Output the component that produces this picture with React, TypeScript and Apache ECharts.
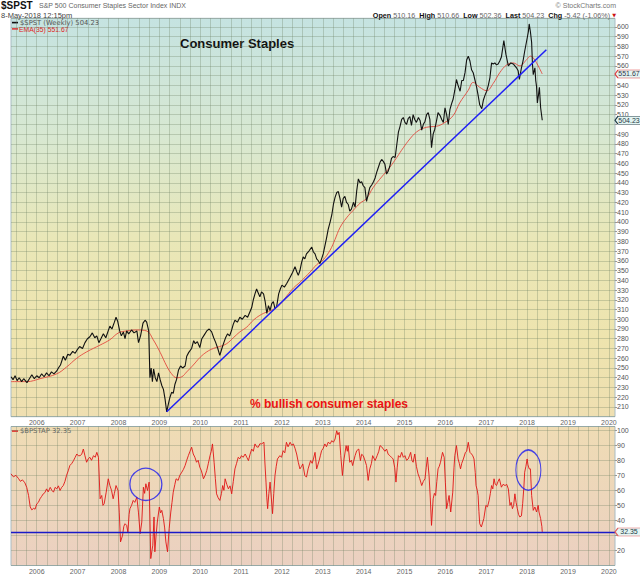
import React, { useEffect, useRef } from "react";
import * as echarts from "echarts";

const FONT = '"Liberation Sans", Arial, sans-serif';

// ---- axis ranges / ticks ----
const X_MIN = 2005.37;
const X_MAX = 2020.15;
const yearLabels = [2006, 2007, 2008, 2009, 2010, 2011, 2012, 2013, 2014, 2015, 2016, 2017, 2018, 2019, 2020];
const quarterLines: number[] = [];
for (let q = 2005.5; q <= 2020.001; q += 0.25) quarterLines.push(Math.round(q * 100) / 100);
// axis labels hidden behind the last-value tags
const hiddenPriceLabels = [500, 550];
const hiddenBullishLabels = [30];

// ---- $SPST weekly close (decimal year, value) ----
const spst: number[][] = [
  [2005.37, 241], [2005.42, 238], [2005.47, 242], [2005.52, 237], [2005.57, 240], [2005.63, 236], [2005.68, 239],
  [2005.76, 235], [2005.82, 239], [2005.88, 243], [2005.94, 239], [2006.0, 242], [2006.06, 240], [2006.12, 244],
  [2006.18, 241], [2006.24, 245], [2006.3, 242], [2006.36, 246], [2006.42, 244], [2006.49, 247], [2006.53, 250],
  [2006.58, 253], [2006.65, 262], [2006.7, 258], [2006.76, 264], [2006.81, 263], [2006.88, 267], [2006.94, 265],
  [2006.98, 268], [2007.05, 272], [2007.12, 270], [2007.18, 276], [2007.24, 280], [2007.3, 282], [2007.36, 286],
  [2007.42, 281], [2007.47, 283], [2007.52, 276], [2007.57, 280], [2007.63, 285], [2007.69, 281], [2007.74, 287],
  [2007.79, 293], [2007.84, 290], [2007.9, 297], [2007.94, 302], [2007.98, 298], [2008.03, 288], [2008.07, 283],
  [2008.12, 287], [2008.16, 280], [2008.2, 288], [2008.25, 285], [2008.32, 289], [2008.38, 286], [2008.45, 288],
  [2008.49, 276], [2008.54, 283], [2008.6, 296], [2008.65, 299], [2008.69, 297], [2008.74, 288], [2008.77, 240],
  [2008.8, 250], [2008.83, 236], [2008.86, 249], [2008.9, 240], [2008.94, 236], [2008.98, 245], [2009.02, 238],
  [2009.06, 232], [2009.1, 228], [2009.14, 218], [2009.18, 205], [2009.22, 213], [2009.26, 220], [2009.3, 225],
  [2009.34, 224], [2009.38, 233], [2009.42, 238], [2009.47, 248], [2009.52, 252], [2009.57, 250], [2009.63, 252],
  [2009.67, 262], [2009.72, 266], [2009.79, 270], [2009.84, 278], [2009.88, 275], [2009.93, 277], [2009.99, 271],
  [2010.04, 280], [2010.1, 284], [2010.16, 288], [2010.22, 290], [2010.28, 287], [2010.33, 281], [2010.38, 276],
  [2010.43, 270], [2010.48, 263], [2010.53, 270], [2010.57, 275], [2010.62, 281], [2010.67, 285], [2010.72, 283],
  [2010.77, 289], [2010.81, 295], [2010.85, 299], [2010.91, 297], [2010.97, 302], [2011.03, 300], [2011.1, 304],
  [2011.16, 302], [2011.22, 308], [2011.26, 312], [2011.3, 320], [2011.34, 326], [2011.38, 331], [2011.42, 327],
  [2011.46, 323], [2011.5, 328], [2011.55, 326], [2011.59, 318], [2011.63, 306], [2011.67, 314], [2011.71, 309],
  [2011.75, 316], [2011.79, 318], [2011.83, 311], [2011.87, 313], [2011.92, 326], [2011.96, 331], [2012.0, 335],
  [2012.06, 333], [2012.12, 337], [2012.16, 340], [2012.2, 343], [2012.26, 348], [2012.32, 354], [2012.36, 349],
  [2012.4, 345], [2012.44, 350], [2012.48, 358], [2012.52, 364], [2012.56, 362], [2012.6, 367], [2012.66, 370],
  [2012.73, 374], [2012.77, 369], [2012.81, 367], [2012.85, 362], [2012.89, 360], [2012.93, 357], [2012.97, 362],
  [2013.01, 367], [2013.05, 375], [2013.09, 383], [2013.13, 392], [2013.18, 400], [2013.22, 407], [2013.26, 418],
  [2013.3, 425], [2013.34, 430], [2013.38, 431], [2013.42, 424], [2013.46, 415], [2013.5, 424], [2013.54, 426],
  [2013.58, 420], [2013.62, 418], [2013.66, 411], [2013.7, 413], [2013.75, 420], [2013.79, 415], [2013.83, 432],
  [2013.87, 444], [2013.91, 440], [2013.95, 441], [2013.99, 437], [2014.03, 435], [2014.07, 421], [2014.11, 428],
  [2014.15, 435], [2014.2, 438], [2014.24, 441], [2014.28, 445], [2014.32, 451], [2014.36, 456], [2014.4, 461],
  [2014.44, 464], [2014.48, 462], [2014.52, 459], [2014.56, 449], [2014.6, 452], [2014.64, 457], [2014.68, 465],
  [2014.72, 467], [2014.77, 466], [2014.81, 479], [2014.85, 492], [2014.89, 498], [2014.93, 505], [2014.97, 507],
  [2015.01, 502], [2015.05, 500], [2015.09, 506], [2015.13, 508], [2015.17, 499], [2015.21, 510], [2015.25, 505],
  [2015.29, 502], [2015.34, 507], [2015.38, 504], [2015.42, 494], [2015.46, 500], [2015.5, 503], [2015.54, 510],
  [2015.58, 512], [2015.62, 505], [2015.66, 476], [2015.7, 490], [2015.74, 495], [2015.78, 503], [2015.82, 512],
  [2015.87, 509], [2015.91, 505], [2015.95, 502], [2015.99, 517], [2016.03, 510], [2016.07, 500], [2016.11, 515],
  [2016.15, 521], [2016.19, 526], [2016.23, 535], [2016.27, 546], [2016.31, 540], [2016.36, 534], [2016.4, 545],
  [2016.44, 545], [2016.48, 553], [2016.52, 566], [2016.56, 570], [2016.6, 565], [2016.64, 556], [2016.68, 553],
  [2016.72, 546], [2016.76, 539], [2016.8, 530], [2016.84, 520], [2016.89, 516], [2016.93, 525], [2016.97, 530],
  [2017.01, 534], [2017.05, 540], [2017.09, 548], [2017.13, 563], [2017.17, 562], [2017.21, 563], [2017.25, 561],
  [2017.29, 562], [2017.33, 565], [2017.37, 569], [2017.43, 586], [2017.48, 572], [2017.51, 566], [2017.54, 560],
  [2017.6, 563], [2017.66, 562], [2017.7, 560], [2017.74, 558], [2017.78, 555], [2017.81, 546], [2017.86, 558],
  [2017.9, 565], [2017.94, 575], [2017.99, 586], [2018.03, 595], [2018.05, 603], [2018.08, 595], [2018.11, 584],
  [2018.13, 562], [2018.15, 551], [2018.19, 558], [2018.21, 545], [2018.23, 539], [2018.25, 522], [2018.28, 531],
  [2018.3, 538], [2018.33, 517], [2018.37, 504.23],
];

// ---- EMA(35) ----
const ema35: number[][] = [
  [2005.37, 236], [2005.76, 236], [2006.08, 239], [2006.49, 244], [2006.73, 251], [2006.98, 260], [2007.22, 266.5],
  [2007.55, 273.5], [2007.79, 279], [2008.0, 286], [2008.2, 288], [2008.45, 289], [2008.69, 288], [2008.85, 279],
  [2009.02, 266], [2009.18, 252], [2009.3, 244], [2009.42, 240], [2009.55, 241], [2009.67, 246], [2009.83, 253],
  [2010.0, 261], [2010.16, 266.5], [2010.32, 270], [2010.48, 272], [2010.65, 275], [2010.81, 281], [2010.97, 287],
  [2011.14, 292], [2011.3, 299], [2011.46, 304], [2011.63, 307.5], [2011.79, 310], [2011.95, 315], [2012.12, 324],
  [2012.28, 332], [2012.44, 338], [2012.69, 348.5], [2012.85, 356], [2013.01, 361], [2013.18, 371], [2013.3, 382],
  [2013.42, 394], [2013.58, 404], [2013.75, 412], [2013.91, 419], [2014.07, 424], [2014.23, 435], [2014.44, 446],
  [2014.64, 456], [2014.81, 466], [2014.97, 476], [2015.13, 485], [2015.29, 492], [2015.46, 496], [2015.62, 497.5],
  [2015.78, 498], [2015.99, 502], [2016.19, 509], [2016.35, 522], [2016.56, 535], [2016.68, 543], [2016.84, 538],
  [2017.01, 534.5], [2017.17, 542], [2017.33, 553], [2017.5, 561], [2017.66, 563], [2017.82, 560], [2017.99, 566.5],
  [2018.08, 570], [2018.17, 567], [2018.27, 560], [2018.37, 551.67],
];

// ---- trend line drawn on the price panel ----
const trendLine: number[][] = [[2009.18, 205], [2018.47, 576.5]];

// ---- $BPSTAP bullish percent ----
const bpstap: number[][] = [
  [2005.37, 71], [2005.43, 69], [2005.49, 70], [2005.55, 68], [2005.6, 66], [2005.65, 67], [2005.71, 65],
  [2005.755, 62], [2005.8, 56.6], [2005.84, 49], [2005.88, 47], [2005.92, 48], [2005.96, 47.5], [2006.0, 51],
  [2006.04, 52], [2006.08, 54.4], [2006.12, 56], [2006.16, 57.7], [2006.2, 58.5], [2006.24, 61], [2006.28, 59],
  [2006.33, 62], [2006.37, 60], [2006.41, 58.8], [2006.45, 62], [2006.49, 61], [2006.53, 63], [2006.57, 59.9],
  [2006.61, 62], [2006.65, 63.2], [2006.69, 66], [2006.73, 70], [2006.77, 73], [2006.81, 76.5], [2006.86, 78],
  [2006.9, 79.8], [2006.94, 82], [2006.98, 84.2], [2007.02, 83], [2007.06, 83.1], [2007.1, 84], [2007.14, 87.5],
  [2007.18, 83], [2007.22, 78.7], [2007.26, 81], [2007.3, 82], [2007.34, 80], [2007.39, 83.1], [2007.43, 82],
  [2007.47, 85.3], [2007.51, 82], [2007.55, 54.4], [2007.59, 56.6], [2007.62, 50], [2007.65, 51.1], [2007.7, 58.8],
  [2007.75, 67.7], [2007.79, 63.2], [2007.83, 60], [2007.87, 54.4], [2007.9, 58], [2007.94, 63.2], [2007.99, 59.9],
  [2008.02, 45], [2008.05, 25.7], [2008.1, 30.1], [2008.13, 36], [2008.16, 37.8], [2008.2, 36.7], [2008.23, 32.3],
  [2008.26, 44], [2008.28, 47.8], [2008.32, 50], [2008.36, 53.3], [2008.4, 52], [2008.45, 55.5], [2008.49, 45],
  [2008.53, 31.2], [2008.57, 38.9], [2008.61, 62.1], [2008.64, 58], [2008.67, 64.4], [2008.71, 59.9], [2008.75, 65.5],
  [2008.79, 14.6], [2008.82, 20], [2008.84, 23.5], [2008.87, 42.3], [2008.89, 19.1], [2008.92, 30], [2008.95, 38.9],
  [2009.0, 48.9], [2009.03, 45], [2009.06, 46.7], [2009.1, 41.2], [2009.13, 35], [2009.16, 25.7], [2009.2, 19.1],
  [2009.24, 34.5], [2009.28, 45.6], [2009.31, 52], [2009.34, 58.8], [2009.38, 64], [2009.41, 67.7], [2009.46, 66.6],
  [2009.5, 70], [2009.55, 72.1], [2009.59, 74], [2009.63, 76.5], [2009.67, 80], [2009.71, 83.1], [2009.75, 86],
  [2009.79, 88.7], [2009.83, 84.2], [2009.87, 82], [2009.91, 78.7], [2009.95, 80], [2009.99, 75.4], [2010.03, 73],
  [2010.08, 67.7], [2010.12, 70], [2010.16, 73.2], [2010.2, 78], [2010.24, 83.1], [2010.27, 86], [2010.3, 90.9],
  [2010.34, 78.7], [2010.37, 68], [2010.4, 57.7], [2010.44, 55], [2010.48, 53.3], [2010.52, 58], [2010.55, 63.2],
  [2010.58, 60], [2010.61, 67.7], [2010.65, 64], [2010.69, 61], [2010.73, 63], [2010.77, 57.7], [2010.81, 66],
  [2010.85, 74.3], [2010.89, 78], [2010.93, 82], [2010.97, 81], [2011.01, 83.1], [2011.05, 82], [2011.1, 84.2],
  [2011.14, 82], [2011.18, 79.8], [2011.22, 84], [2011.26, 87.5], [2011.3, 86], [2011.34, 90.9], [2011.38, 89],
  [2011.42, 88.7], [2011.46, 91], [2011.5, 90.9], [2011.56, 92], [2011.58, 80], [2011.61, 65.5], [2011.63, 55],
  [2011.65, 47.8], [2011.68, 58], [2011.71, 65.5], [2011.74, 55], [2011.77, 44.5], [2011.8, 58], [2011.83, 69.9],
  [2011.86, 76], [2011.89, 80.9], [2011.95, 83.1], [2011.99, 82], [2012.03, 86.4], [2012.07, 85], [2012.11, 92],
  [2012.15, 89], [2012.2, 92], [2012.24, 90], [2012.28, 90.9], [2012.32, 88], [2012.36, 84.2], [2012.4, 78.7],
  [2012.44, 74.3], [2012.48, 76], [2012.51, 77.6], [2012.56, 69.9], [2012.6, 68.8], [2012.64, 74.3], [2012.7, 79.8],
  [2012.74, 78], [2012.77, 80.9], [2012.81, 85.3], [2012.85, 74.3], [2012.88, 77], [2012.91, 79.8], [2012.94, 83],
  [2012.97, 86.4], [2013.01, 88], [2013.05, 90.9], [2013.09, 89], [2013.13, 92], [2013.18, 91], [2013.22, 93.1],
  [2013.26, 92], [2013.3, 94.2], [2013.34, 99.7], [2013.37, 97], [2013.4, 98.6], [2013.44, 83.1], [2013.48, 69.9],
  [2013.52, 80.9], [2013.57, 89.8], [2013.6, 86], [2013.62, 89.8], [2013.66, 78.7], [2013.7, 80], [2013.73, 76.5],
  [2013.79, 83.1], [2013.83, 86.4], [2013.88, 87.5], [2013.92, 79.8], [2013.95, 84], [2013.99, 83.1], [2014.03, 80],
  [2014.07, 76.5], [2014.11, 66.6], [2014.15, 74.3], [2014.19, 78], [2014.22, 83.1], [2014.28, 79.8], [2014.33, 83.1],
  [2014.37, 86], [2014.4, 89.8], [2014.44, 89], [2014.48, 87.5], [2014.52, 86], [2014.56, 87.5], [2014.6, 84],
  [2014.64, 83.1], [2014.68, 82], [2014.72, 80.9], [2014.76, 75], [2014.79, 65.5], [2014.82, 75], [2014.85, 83.1],
  [2014.89, 82], [2014.93, 85.3], [2014.97, 82], [2015.01, 83.1], [2015.05, 80], [2015.09, 80.9], [2015.12, 83],
  [2015.15, 85.3], [2015.18, 80], [2015.21, 78.7], [2015.25, 84.2], [2015.29, 76], [2015.33, 71], [2015.37, 68],
  [2015.42, 63.2], [2015.46, 66], [2015.5, 67.7], [2015.53, 75], [2015.56, 82], [2015.6, 69.9], [2015.63, 55],
  [2015.66, 36.7], [2015.7, 54.4], [2015.73, 58], [2015.76, 56.6], [2015.79, 66], [2015.82, 74.3], [2015.85, 76],
  [2015.88, 78.7], [2015.93, 85.3], [2015.97, 82], [2016.0, 65], [2016.03, 47.8], [2016.06, 52], [2016.09, 56.6],
  [2016.13, 45.6], [2016.18, 58.8], [2016.21, 75], [2016.23, 83.1], [2016.27, 89.8], [2016.31, 80.9], [2016.34, 78],
  [2016.37, 74.3], [2016.4, 78], [2016.44, 80.9], [2016.49, 85.3], [2016.52, 86], [2016.56, 92], [2016.6, 85.3],
  [2016.64, 84.2], [2016.67, 83], [2016.7, 80.9], [2016.73, 72], [2016.75, 63.2], [2016.78, 60], [2016.8, 56.6],
  [2016.82, 46], [2016.84, 37.8], [2016.88, 35.6], [2016.94, 41.2], [2016.99, 50], [2017.03, 49], [2017.07, 53.3],
  [2017.1, 58], [2017.13, 63.2], [2017.16, 61], [2017.19, 67.7], [2017.22, 64], [2017.25, 63.2], [2017.29, 66],
  [2017.32, 67.7], [2017.37, 62.1], [2017.41, 64], [2017.46, 63.2], [2017.5, 64], [2017.54, 61], [2017.58, 50],
  [2017.61, 52], [2017.64, 47.8], [2017.67, 50], [2017.7, 57.7], [2017.73, 52], [2017.76, 47.8], [2017.79, 44],
  [2017.82, 42.3], [2017.86, 43], [2017.89, 51.1], [2017.92, 62], [2017.94, 72.1], [2017.97, 76], [2018.0, 80.9],
  [2018.02, 77], [2018.05, 74.3], [2018.08, 74.3], [2018.11, 56.6], [2018.15, 46.7], [2018.19, 48.9], [2018.23, 45.6],
  [2018.27, 50], [2018.29, 45.6], [2018.33, 41.2], [2018.36, 36], [2018.37, 32.35],
];

// ---- last values / annotations ----
const lastPrice = 504.23;
const lastEma = 551.67;
const lastBullish = 32.35;
const circleCenters: number[][] = [[2008.67, 64], [2018.03, 73.5]];
const circleSizes: number[][] = [[32, 32], [25, 40]];

const GRID_LINE = "rgba(105,125,95,0.30)";
const FRAME = "#a9bcc4";
const TAG_PATH = "path://M0,4 L3,0 L26,0 L26,8 L3,8 Z";

function tag(value: number, border: string, textColor: string) {
  return {
    symbol: TAG_PATH,
    symbolSize: [26, 8],
    symbolOffset: ["50%", 0],
    silent: true,
    itemStyle: { color: "#e3f5f3", borderColor: border, borderWidth: 0.8 },
    label: {
      show: true,
      position: "inside",
      offset: [1, 0],
      fontSize: 7,
      fontFamily: FONT,
      color: textColor,
      formatter: value.toFixed(2),
    },
    data: [{ coord: [X_MAX, value] }],
  };
}

export default function App() {
  const ref = useRef<HTMLDivElement>(null);

  useEffect(() => {
    document.body.style.margin = "0";
    const chart = echarts.init(ref.current!, null, { renderer: "svg" });

    const xAxisBase = (gridIndex: number) => ({
      type: "value",
      gridIndex,
      min: X_MIN,
      max: X_MAX,
      axisLine: { show: false },
      axisTick: { show: false, customValues: quarterLines },
      splitLine: { show: true, lineStyle: { color: GRID_LINE, width: 1 } },
      axisLabel: {
        show: true,
        customValues: yearLabels,
        formatter: (v: number) => String(Math.round(v)),
        fontSize: 7,
        fontFamily: FONT,
        color: "#666",
        margin: 2,
      },
    });

    const yAxisBase = (gridIndex: number, min: number, max: number, hidden: number[]) => ({
      type: "value",
      gridIndex,
      position: "right",
      min,
      max,
      interval: 10,
      axisLine: { show: false },
      axisTick: { show: true, length: 2, lineStyle: { color: "#999" } },
      splitLine: { show: true, lineStyle: { color: GRID_LINE, width: 1 } },
      axisLabel: {
        fontSize: 7,
        fontFamily: FONT,
        color: "#555",
        margin: 2,
        showMinLabel: false,
        showMaxLabel: false,
        formatter: (v: number) => (hidden.indexOf(Math.round(v)) >= 0 ? "" : String(Math.round(v))),
      },
    });

    chart.setOption({
      animation: false,
      backgroundColor: "#ffffff",
      grid: [
        {
          left: 11, top: 18.3, width: 604, height: 398.4,
          show: true,
          borderColor: FRAME,
          borderWidth: 1,
          backgroundColor: new echarts.graphic.LinearGradient(0, 0, 0, 1, [
            { offset: 0, color: "#c5e3e1" },
            { offset: 0.3, color: "#d8e8d1" },
            { offset: 0.55, color: "#e9e7b8" },
            { offset: 0.8, color: "#eee4ae" },
            { offset: 1, color: "#efdfb1" },
          ]),
        },
        {
          left: 11, top: 426.5, width: 604, height: 139,
          show: true,
          borderColor: FRAME,
          borderWidth: 1,
          backgroundColor: new echarts.graphic.LinearGradient(0, 0, 0, 1, [
            { offset: 0, color: "#efdcb4" },
            { offset: 1, color: "#ebd0c1" },
          ]),
        },
      ],
      xAxis: [xAxisBase(0), xAxisBase(1)],
      yAxis: [
        yAxisBase(0, 200, 608.8, hiddenPriceLabels),
        yAxisBase(1, 10, 102.5, hiddenBullishLabels),
      ],
      series: [
        {
          type: "line",
          name: "EMA(35)",
          xAxisIndex: 0,
          yAxisIndex: 0,
          data: ema35,
          smooth: 0.4,
          symbol: "none",
          clip: false,
          lineStyle: { color: "#e2483e", width: 0.9 },
          markPoint: tag(lastEma, "#e04040", "#334"),
          z: 3,
        },
        {
          type: "line",
          name: "$SPST",
          xAxisIndex: 0,
          yAxisIndex: 0,
          data: spst,
          symbol: "none",
          clip: false,
          lineStyle: { color: "#111111", width: 1.1 },
          markPoint: tag(lastPrice, "#1e3a44", "#1e3a44"),
          z: 4,
        },
        {
          type: "line",
          name: "trend",
          xAxisIndex: 0,
          yAxisIndex: 0,
          data: trendLine,
          symbol: "none",
          lineStyle: { color: "#1f1ff5", width: 1.5 },
          z: 5,
        },
        {
          type: "line",
          name: "$BPSTAP",
          xAxisIndex: 1,
          yAxisIndex: 1,
          data: bpstap,
          symbol: "none",
          clip: false,
          lineStyle: { color: "#e01414", width: 0.9 },
          markLine: {
            silent: true,
            symbol: "none",
            label: { show: false },
            lineStyle: { color: "#1a1ac8", width: 1.3, type: "solid" },
            data: [{ yAxis: lastBullish }],
          },
          markPoint: tag(lastBullish, "#e06060", "#1e3a44"),
          z: 4,
        },
        {
          type: "scatter",
          name: "circles",
          xAxisIndex: 1,
          yAxisIndex: 1,
          symbol: "circle",
          data: circleCenters.map((c, i) => ({ value: c, symbolSize: circleSizes[i] })),
          itemStyle: { color: "rgba(0,0,0,0)", borderColor: "#1c1cf0", borderWidth: 1.3 },
          silent: true,
          z: 6,
        },
      ],
      graphic: [
        { type: "text", left: 1, top: 0, style: { text: "$SPST", font: `bold 10px ${FONT}`, fill: "#111" } },
        { type: "text", left: 39, top: 2, style: { text: "S&P 500 Consumer Staples Sector Index INDX", font: `7px ${FONT}`, fill: "#666" } },
        { type: "text", left: 1, top: 11.5, style: { text: "8-May-2018 12:15pm", font: `7.5px ${FONT}`, fill: "#444" } },
        { type: "text", right: 24, top: 2, style: { text: "\u00A9 StockCharts.com", font: `7px ${FONT}`, fill: "#777" } },
        {
          type: "text",
          right: 24,
          top: 11.5,
          style: {
            text: "{b|Open} {n|510.16}  {b|High} {n|510.66}  {b|Low} {n|502.36}  {b|Last} {n|504.23}  {b|Chg} {n|-5.42 (-1.06%)} {r|\u25BC}",
            font: `7.2px ${FONT}`,
            rich: {
              b: { fontSize: 7.2, fontWeight: "bold", fontFamily: FONT, fill: "#111" },
              n: { fontSize: 7.2, fontFamily: FONT, fill: "#666" },
              r: { fontSize: 5, fontFamily: "DejaVu Sans", fill: "#cc1111" },
            },
          },
        },
        { type: "rect", left: 12, top: 21.8, shape: { width: 6, height: 1.6 }, style: { fill: "#111" } },
        { type: "text", left: 20, top: 19, style: { text: "$SPST (Weekly) 504.23", font: `6.8px "DejaVu Sans"`, fill: "#555" } },
        { type: "rect", left: 12, top: 28.2, shape: { width: 6, height: 1.4 }, style: { fill: "#e02020" } },
        { type: "text", left: 19, top: 25.5, style: { text: "EMA(35) 551.67", font: `6.8px ${FONT}`, fill: "#e02020" } },
        { type: "text", left: 180, top: 36.5, style: { text: "Consumer Staples", font: `bold 13px ${FONT}`, fill: "#111" } },
        { type: "text", left: 250, top: 398, style: { text: "% bullish consumer staples", font: `bold 12px ${FONT}`, fill: "#ee1010" } },
        { type: "rect", left: 12, top: 430.3, shape: { width: 6, height: 1.5 }, style: { fill: "#e02020" } },
        { type: "text", left: 20, top: 427.5, style: { text: "$BPSTAP 32.35", font: `6.8px "DejaVu Sans"`, fill: "#666" } },
      ],
    });

    return () => chart.dispose();
  }, []);

  return (
    <div
      ref={ref}
      style={{ position: "absolute", left: 0, top: 0, width: 640, height: 576, background: "#fff" }}
    />
  );
}
